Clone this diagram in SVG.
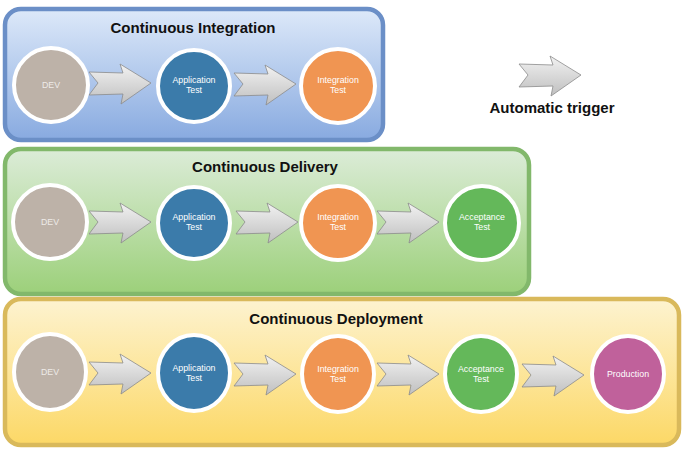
<svg xmlns="http://www.w3.org/2000/svg" width="683" height="451" viewBox="0 0 683 451">
<defs>
<linearGradient id="gBlue" x1="0" y1="0" x2="0" y2="1"><stop offset="0" stop-color="#dde9f9"/><stop offset="1" stop-color="#88aae0"/></linearGradient>
<linearGradient id="gGreen" x1="0" y1="0" x2="0" y2="1"><stop offset="0" stop-color="#dcecd8"/><stop offset="1" stop-color="#9cd07a"/></linearGradient>
<linearGradient id="gYellow" x1="0" y1="0" x2="0" y2="1"><stop offset="0" stop-color="#fdf3d0"/><stop offset="1" stop-color="#fcd866"/></linearGradient>
<linearGradient id="gArrow" x1="0" y1="0" x2="0" y2="1"><stop offset="0" stop-color="#f2f2f2"/><stop offset="1" stop-color="#bfbfbf"/></linearGradient>
<path id="arrow" d="M0,-11 L34,-10 L31,-19 L62,0 L32,21 L34,11 L0,12 L9,0 Z"/>
</defs>
<style>
.panel{stroke-width:4.5}
.title{font-family:"Liberation Sans",Arial,sans-serif;font-weight:bold;font-size:15px;fill:#111;text-anchor:middle}
.node{stroke:#ffffff;stroke-width:4}
.lbl{font-family:"Liberation Sans",Arial,sans-serif;font-size:8.8px;fill:#ffffff;text-anchor:middle}
.dev{fill-opacity:0.75}
.arr{fill:url(#gArrow);stroke:#8c8c8c;stroke-width:0.8}
</style>
<rect width="683" height="451" fill="#ffffff"/>

<!-- Panels -->
<g id="panel-ci">
<rect class="panel" x="5" y="9" width="378" height="131" rx="16" fill="url(#gBlue)" stroke="#6b8fc7"/>
<text class="title" x="193" y="33">Continuous Integration</text>
</g>
<g id="panel-cdelivery">
<rect class="panel" x="5" y="149" width="524" height="145" rx="16" fill="url(#gGreen)" stroke="#82b86b"/>
<text class="title" x="265" y="172">Continuous Delivery</text>
</g>
<g id="panel-cdeployment">
<rect class="panel" x="5" y="299" width="674" height="146" rx="16" fill="url(#gYellow)" stroke="#d9b95b"/>
<text class="title" x="336" y="324">Continuous Deployment</text>
</g>

<!-- Connectors -->
<g id="connectors">
<use href="#arrow" class="arr" x="89" y="83"/>
<use href="#arrow" class="arr" x="234" y="84"/>
<use href="#arrow" class="arr" x="89" y="222"/>
<use href="#arrow" class="arr" x="236" y="222"/>
<use href="#arrow" class="arr" x="377" y="222"/>
<use href="#arrow" class="arr" x="89" y="373"/>
<use href="#arrow" class="arr" x="234" y="374"/>
<use href="#arrow" class="arr" x="377" y="374"/>
<use href="#arrow" class="arr" x="522" y="375"/>
</g>

<!-- Row 1 nodes -->
<g id="ci-dev"><circle class="node" cx="51" cy="85" r="37" fill="#bdb2a8"/><text class="lbl dev" x="51" y="88">DEV</text></g>
<g id="ci-app"><circle class="node" cx="194" cy="86" r="36" fill="#3b7baa"/><text class="lbl" x="194" y="83">Application</text><text class="lbl" x="194" y="93">Test</text></g>
<g id="ci-int"><circle class="node" cx="338" cy="86" r="37" fill="#f09552"/><text class="lbl" x="338" y="83">Integration</text><text class="lbl" x="338" y="93">Test</text></g>

<!-- Row 2 nodes -->
<g id="cdl-dev"><circle class="node" cx="50" cy="222" r="37" fill="#bdb2a8"/><text class="lbl dev" x="50" y="225">DEV</text></g>
<g id="cdl-app"><circle class="node" cx="194" cy="223" r="36" fill="#3b7baa"/><text class="lbl" x="194" y="220">Application</text><text class="lbl" x="194" y="230">Test</text></g>
<g id="cdl-int"><circle class="node" cx="338" cy="223" r="37" fill="#f09552"/><text class="lbl" x="338" y="220">Integration</text><text class="lbl" x="338" y="230">Test</text></g>
<g id="cdl-acc"><circle class="node" cx="482" cy="223" r="37" fill="#64b85a"/><text class="lbl" x="482" y="220">Acceptance</text><text class="lbl" x="482" y="230">Test</text></g>

<!-- Row 3 nodes -->
<g id="cdp-dev"><ellipse class="node" cx="50" cy="372" rx="36" ry="38" fill="#bdb2a8"/><text class="lbl dev" x="50" y="375">DEV</text></g>
<g id="cdp-app"><ellipse class="node" cx="194" cy="373" rx="36" ry="38" fill="#3b7baa"/><text class="lbl" x="194" y="371">Application</text><text class="lbl" x="194" y="381">Test</text></g>
<g id="cdp-int"><ellipse class="node" cx="338" cy="374" rx="36" ry="38" fill="#f09552"/><text class="lbl" x="338" y="372">Integration</text><text class="lbl" x="338" y="382">Test</text></g>
<g id="cdp-acc"><ellipse class="node" cx="481" cy="374" rx="36" ry="38" fill="#64b85a"/><text class="lbl" x="481" y="372">Acceptance</text><text class="lbl" x="481" y="382">Test</text></g>
<g id="cdp-prod"><ellipse class="node" cx="628" cy="374" rx="36" ry="38" fill="#c0619b"/><text class="lbl" x="628" y="377">Production</text></g>

<!-- Legend -->
<g id="legend">
<use href="#arrow" class="arr" x="519" y="75"/>
<text class="title" x="552" y="113">Automatic trigger</text>
</g>
</svg>
